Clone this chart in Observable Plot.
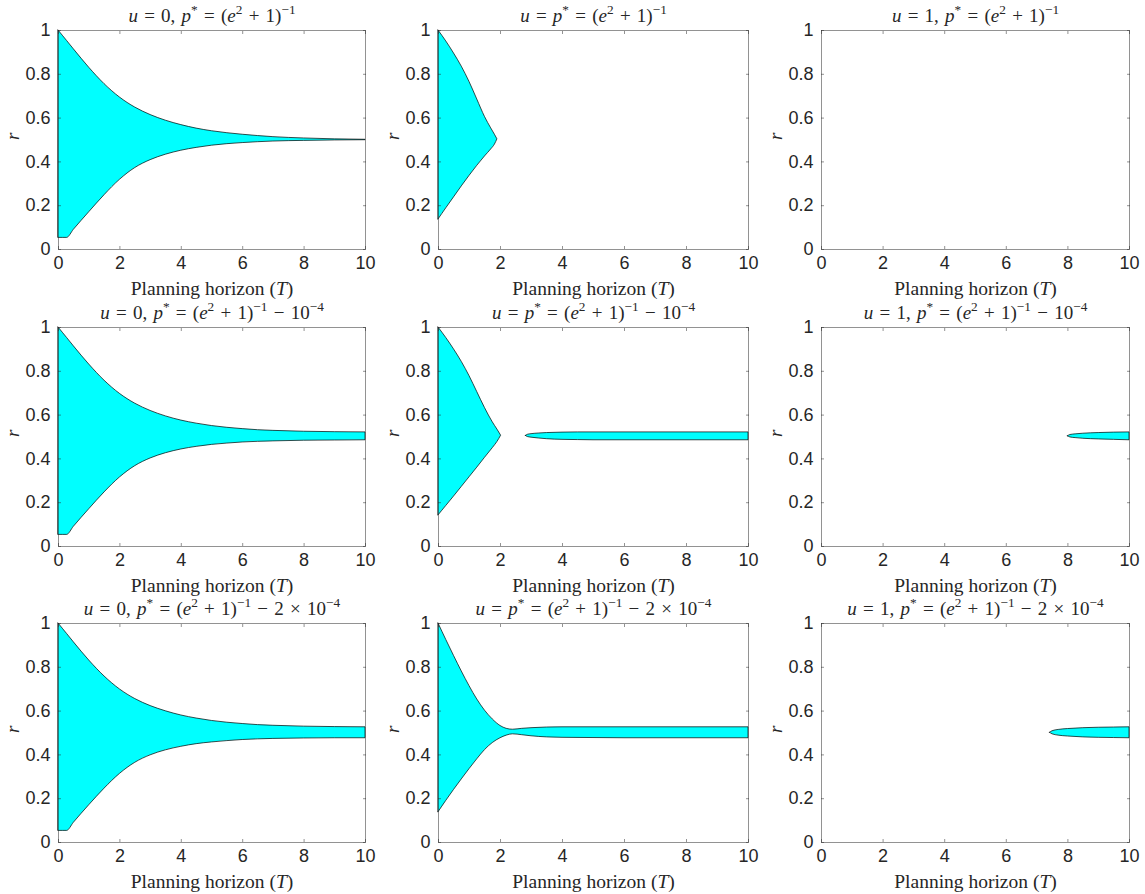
<!DOCTYPE html>
<html><head><meta charset="utf-8">
<script src="https://cdn.jsdelivr.net/npm/d3@7"></script>
<script src="https://cdn.jsdelivr.net/npm/@observablehq/plot@0.6"></script>
<style>
html,body{margin:0;padding:0;background:#fff;}
#root{position:relative;width:1145px;height:894px;overflow:hidden;background:#fff;}
#root > svg{position:absolute;}
#root svg g[aria-label$="tick label"]{font-size:18px;font-family:'Liberation Sans',Arial,Helvetica,sans-serif;}
</style>
</head><body><div id="root"></div>
<script>
// ---------- tick values & text ----------
const xTicks = [0, 2, 4, 6, 8, 10];
const yTicks = [0, 0.2, 0.4, 0.6, 0.8, 1];
const titles = [
  "$u$ = 0, $p$^{*} = ($e$^{2} + 1)^{−1}",
  "$u$ = $p$^{*} = ($e$^{2} + 1)^{−1}",
  "$u$ = 1, $p$^{*} = ($e$^{2} + 1)^{−1}",
  "$u$ = 0, $p$^{*} = ($e$^{2} + 1)^{−1} − 10^{−4}",
  "$u$ = $p$^{*} = ($e$^{2} + 1)^{−1} − 10^{−4}",
  "$u$ = 1, $p$^{*} = ($e$^{2} + 1)^{−1} − 10^{−4}",
  "$u$ = 0, $p$^{*} = ($e$^{2} + 1)^{−1} − 2 × 10^{−4}",
  "$u$ = $p$^{*} = ($e$^{2} + 1)^{−1} − 2 × 10^{−4}",
  "$u$ = 1, $p$^{*} = ($e$^{2} + 1)^{−1} − 2 × 10^{−4}"
];
const xLabel = "Planning horizon ($T$)";
const yLabel = "$r$";

// ---------- left column (u = 0) ----------
const T_left = [0, 0.28, 0.5, 1, 1.5, 2, 2.5, 3, 3.5, 4, 4.5, 5, 5.5, 6, 6.5, 7, 8, 9, 10];
const hi_left_a = [1.0, 0.952, 0.914, 0.830, 0.755, 0.694, 0.648, 0.614, 0.588, 0.568, 0.552, 0.540, 0.531, 0.524, 0.518, 0.513, 0.507, 0.503, 0.501];
const lo_left_a = [0.053, 0.053, 0.090, 0.170, 0.248, 0.318, 0.372, 0.408, 0.433, 0.451, 0.464, 0.474, 0.481, 0.486, 0.490, 0.493, 0.496, 0.498, 0.499];
const hi_left_b = [1.0, 0.952, 0.914, 0.831, 0.757, 0.697, 0.652, 0.619, 0.594, 0.575, 0.561, 0.550, 0.542, 0.536, 0.531, 0.528, 0.524, 0.522, 0.521];
const lo_left_b = [0.053, 0.053, 0.090, 0.170, 0.247, 0.315, 0.367, 0.402, 0.426, 0.443, 0.455, 0.464, 0.470, 0.475, 0.478, 0.480, 0.483, 0.484, 0.485];
const hi_left_c = [1.0, 0.952, 0.914, 0.831, 0.758, 0.699, 0.655, 0.623, 0.599, 0.580, 0.566, 0.555, 0.547, 0.541, 0.536, 0.533, 0.529, 0.527, 0.526];
const lo_left_c = [0.053, 0.053, 0.090, 0.170, 0.246, 0.313, 0.364, 0.398, 0.421, 0.437, 0.449, 0.457, 0.463, 0.468, 0.471, 0.473, 0.475, 0.476, 0.476];

// ---------- middle column (u = p*) ----------
const T_mid_a = [0, 0.25, 0.5, 0.75, 1, 1.25, 1.5, 1.7, 1.82, 1.9];
const hi_mid_a = [1.0, 0.95, 0.895, 0.835, 0.765, 0.685, 0.605, 0.553, 0.524, 0.503];
const lo_mid_a = [0.137, 0.188, 0.238, 0.288, 0.336, 0.382, 0.425, 0.457, 0.479, 0.503];

const T_mid_b1 = [0, 0.25, 0.5, 0.75, 1, 1.25, 1.5, 1.75, 1.9, 2.02];
const hi_mid_b1 = [1.0, 0.952, 0.9, 0.843, 0.778, 0.705, 0.632, 0.567, 0.534, 0.506];
const lo_mid_b1 = [0.142, 0.185, 0.228, 0.272, 0.316, 0.36, 0.405, 0.449, 0.477, 0.506];
const T_mid_b2 = [2.82, 2.88, 3.0, 3.25, 3.5, 4, 4.5, 5, 6, 8, 10];
const hi_mid_b2 = [0.505, 0.510, 0.513, 0.516, 0.518, 0.520, 0.521, 0.521, 0.521, 0.521, 0.521];
const lo_mid_b2 = [0.505, 0.500, 0.497, 0.493, 0.490, 0.487, 0.486, 0.485, 0.485, 0.485, 0.485];

const T_mid_c = [0, 0.25, 0.5, 0.75, 1, 1.25, 1.5, 1.75, 2, 2.2, 2.4, 2.7, 3, 3.5, 4, 5, 6, 8, 10];
const hi_mid_c = [1.0, 0.925, 0.852, 0.781, 0.714, 0.653, 0.602, 0.562, 0.532, 0.519, 0.515, 0.519, 0.522, 0.525, 0.526, 0.526, 0.526, 0.526, 0.526];
const lo_mid_c = [0.138, 0.19, 0.24, 0.288, 0.335, 0.38, 0.422, 0.454, 0.476, 0.488, 0.494, 0.49, 0.485, 0.48, 0.478, 0.477, 0.476, 0.476, 0.476];

// ---------- right column (u = 1) ----------
const T_right_b = [8.0, 8.08, 8.25, 8.5, 9, 9.5, 10];
const hi_right_b = [0.503, 0.509, 0.512, 0.515, 0.518, 0.520, 0.521];
const lo_right_b = [0.503, 0.498, 0.495, 0.492, 0.489, 0.487, 0.485];
const T_right_c = [7.42, 7.5, 7.7, 8, 8.5, 9, 9.5, 10];
const hi_right_c = [0.501, 0.508, 0.514, 0.518, 0.522, 0.524, 0.525, 0.526];
const lo_right_c = [0.501, 0.494, 0.488, 0.484, 0.480, 0.478, 0.477, 0.476];

// ---------- build tables ----------
const zip = (T, lo, hi) => T.map((t, i) => ({T: t, lo: lo[i], hi: hi[i]}));
const panelRegions = [
  [zip(T_left, lo_left_a, hi_left_a)],
  [zip(T_mid_a, lo_mid_a, hi_mid_a)],
  [],
  [zip(T_left, lo_left_b, hi_left_b)],
  [zip(T_mid_b1, lo_mid_b1, hi_mid_b1), zip(T_mid_b2, lo_mid_b2, hi_mid_b2)],
  [zip(T_right_b, lo_right_b, hi_right_b)],
  [zip(T_left, lo_left_c, hi_left_c)],
  [zip(T_mid_c, lo_mid_c, hi_mid_c)],
  [zip(T_right_c, lo_right_c, hi_right_c)]
];

// ---------- layout ----------
const colLeft = [58, 438, 821], colWidth = [307, 310, 308];
const rowTop = [30, 327, 623], rowHeight = 219;
const ml = 58, mr = 20, mt = 30, mb = 56;
const axisColor = "#262626";
const serif = "'Liberation Serif', 'Times New Roman', serif";
const sans = "'Liberation Sans', Arial, Helvetica, sans-serif";

function richify(svg) {
  const NS = "http://www.w3.org/2000/svg";
  for (const t of svg.querySelectorAll("text")) {
    const s = t.textContent;
    if (!/[$^]/.test(s)) continue;
    const fs = parseFloat(getComputedStyle(t).fontSize) || 16;
    const shift = Math.round(fs * 0.4);
    while (t.firstChild) t.removeChild(t.firstChild);
    const re = /\$([^$]*)\$|\^\{([^}]*)\}|([^$^]+)/g;
    let m, raised = false;
    while ((m = re.exec(s))) {
      const ts = document.createElementNS(NS, "tspan");
      if (m[2] !== undefined) {
        ts.textContent = m[2];
        ts.setAttribute("font-size", (fs * 0.7).toFixed(1));
        if (!raised) ts.setAttribute("dy", -shift);
        raised = true;
      } else {
        ts.textContent = m[1] !== undefined ? m[1] : m[3];
        if (m[1] !== undefined) ts.setAttribute("font-style", "italic");
        if (raised) { ts.setAttribute("dy", shift); raised = false; }
      }
      t.appendChild(ts);
    }
  }
}

const root = document.getElementById("root");
panelRegions.forEach((regions, k) => {
  const r = Math.floor(k / 3), c = k % 3;
  const W = colWidth[c];
  const svg = Plot.plot({
    width: W + ml + mr,
    height: rowHeight + mt + mb,
    marginLeft: ml, marginRight: mr, marginTop: mt, marginBottom: mb,
    style: {background: "transparent", overflow: "visible", color: axisColor, fontFamily: sans, fontSize: "18px"},
    x: {domain: [0, 10]},
    y: {domain: [0, 1]},
    marks: [
      ...regions.map(reg => Plot.areaY(reg, {x: "T", y1: "lo", y2: "hi", fill: "#00ffff", stroke: "#000", strokeWidth: 0.7, curve: "monotone-x"})),
      Plot.frame({stroke: axisColor, strokeWidth: 0.5}),
      Plot.axisX(xTicks, {anchor: "bottom", tickSize: 0, tickPadding: 7, label: null, tickFormat: d => String(d), fontSize: 18, fill: axisColor}),
      Plot.axisX(xTicks, {anchor: "bottom", tickSize: 3, dy: -3, fill: "none", stroke: axisColor, strokeWidth: 0.5, label: null}),
      Plot.axisX(xTicks, {anchor: "top", tickSize: 3, dy: 3, fill: "none", stroke: axisColor, strokeWidth: 0.5, label: null}),
      Plot.axisY(yTicks, {anchor: "left", tickSize: 0, tickPadding: 8, label: null, tickFormat: d => String(d), fontSize: 18, fill: axisColor}),
      Plot.axisY(yTicks, {anchor: "left", tickSize: 3, dx: 3, fill: "none", stroke: axisColor, strokeWidth: 0.5, label: null}),
      Plot.axisY(yTicks, {anchor: "right", tickSize: 3, dx: -3, fill: "none", stroke: axisColor, strokeWidth: 0.5, label: null}),
      Plot.text([titles[k]], {frameAnchor: "top", dy: -9, lineAnchor: "bottom", fontFamily: serif, fontSize: 19, fill: axisColor}),
      Plot.text([xLabel], {frameAnchor: "bottom", dy: 45, fontFamily: serif, fontSize: 19.5, fill: axisColor}),
      Plot.text([yLabel], {frameAnchor: "left", dx: -46, rotate: -90, fontFamily: serif, fontSize: 19, fill: axisColor})
    ]
  });
  svg.style.left = (colLeft[c] - ml) + "px";
  svg.style.top = (rowTop[r] - mt) + "px";
  root.appendChild(svg);
  richify(svg);
  for (const t of svg.querySelectorAll("text")) {
    if (t.querySelector("tspan") && /=/.test(t.textContent)) t.style.wordSpacing = "1.5px";
  }
});
</script></body></html>
